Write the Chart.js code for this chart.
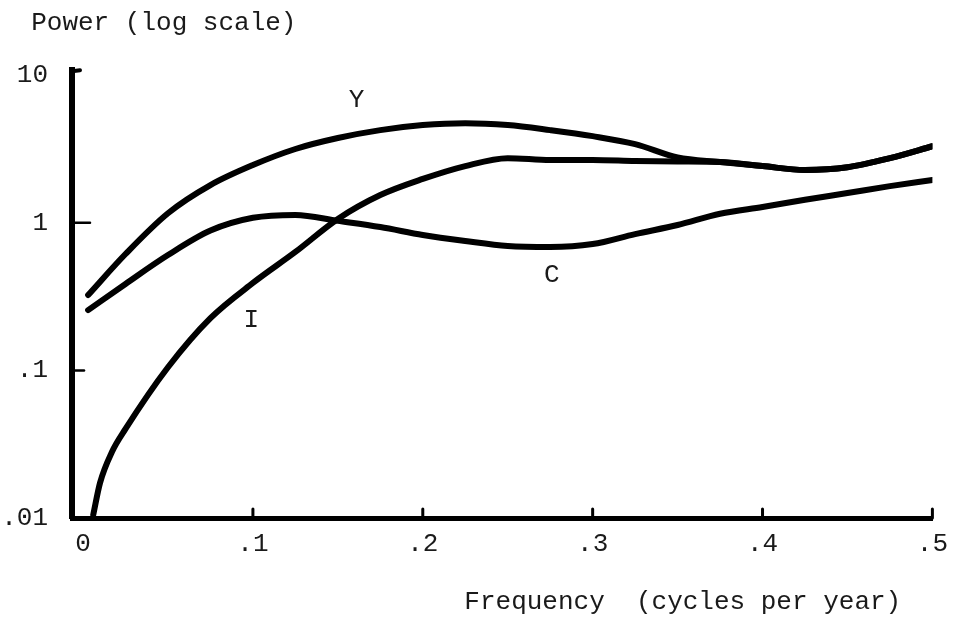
<!DOCTYPE html>
<html>
<head>
<meta charset="utf-8">
<script src="https://cdn.jsdelivr.net/npm/chart.js@4.4.1/dist/chart.umd.min.js"></script>
<style>
  html, body { margin: 0; padding: 0; background: #fff; }
  #wrap { width: 959px; height: 630px; }
</style>
</head>
<body>
<div id="wrap"><canvas id="myChart" width="959" height="630"></canvas></div>
<script>
// frequency (cycles per year) where the curves were read
const freq = [0.003, 0.025, 0.05, 0.075, 0.1, 0.125, 0.15, 0.175, 0.2, 0.225, 0.25,
              0.275, 0.3, 0.325, 0.35, 0.375, 0.4, 0.425, 0.45, 0.475, 0.5];
const yPower = [0.324, 0.614, 1.16, 1.80, 2.46, 3.16, 3.75, 4.24, 4.59, 4.73, 4.59,
                4.24, 3.86, 3.41, 2.77, 2.58, 2.42, 2.28, 2.38, 2.74, 3.30];
const cPower = [0.256, 0.385, 0.604, 0.885, 1.08, 1.13, 1.03, 0.935, 0.826, 0.752, 0.695,
                0.684, 0.717, 0.838, 0.965, 1.15, 1.28, 1.43, 1.59, 1.77, 1.95];
// I starts lower down, so it has a few extra points near zero
const iFreq = [0.006, 0.01, 0.017, 0.025, 0.05, 0.075, 0.1, 0.125, 0.15, 0.175, 0.2, 0.225, 0.25,
               0.275, 0.3, 0.325, 0.35, 0.375, 0.4, 0.425, 0.45, 0.475, 0.5];
const iPower = [0.0105, 0.0173, 0.028, 0.0401, 0.105, 0.226, 0.391, 0.634, 1.06, 1.54, 1.98, 2.42, 2.74,
                2.66, 2.66, 2.62, 2.6, 2.58, 2.42, 2.28, 2.38, 2.74, 3.30];

const xTicks = [0, 0.1, 0.2, 0.3, 0.4, 0.5];
const xTickLabels = ["0", ".1", ".2", ".3", ".4", ".5"];
const yTicks = [0.01, 0.1, 1, 10];
const yTickLabels = [".01", ".1", "1", "10"];

const seriesNames = ["Y", "C", "I"];
// where the hand lettering sits, in data units
const nameSpots = [[0.161, 6.8], [0.276, 0.44], [0.099, 0.219]];

const typeFont = { family: "'Liberation Mono', 'DejaVu Sans Mono', monospace", size: 26 };
const ink = "#1a1a1a";

const pairs = (xs, ys) => xs.map((v, i) => ({ x: v, y: ys[i] }));

const inkMarks = {
    id: "inkMarks",
    afterDraw: (chart) => {
        const { ctx, chartArea, scales } = chart;
        const x = scales.x, y = scales.y;
        ctx.save();
        ctx.strokeStyle = "#000";
        ctx.lineCap = "round";
        // little hook at the top of the power axis
        ctx.lineWidth = 4;
        ctx.beginPath();
        ctx.moveTo(chartArea.left, chartArea.top + 1);
        ctx.lineTo(chartArea.left + 8, chartArea.top);
        ctx.stroke();
        // inward ticks on the power axis
        ctx.lineWidth = 2.5;
        [1, 0.1].forEach((v, i) => {
            const py = y.getPixelForValue(v);
            ctx.beginPath();
            ctx.moveTo(chartArea.left + 2, py);
            ctx.lineTo(chartArea.left + (i === 0 ? 18 : 12), py);
            ctx.stroke();
        });
        // small upward ticks on the frequency axis
        ctx.lineWidth = 3;
        xTicks.slice(1).forEach((v) => {
            const px = x.getPixelForValue(v);
            ctx.beginPath();
            ctx.moveTo(px, chartArea.bottom);
            ctx.lineTo(px, chartArea.bottom - 9);
            ctx.stroke();
        });
        // curve names
        ctx.fillStyle = ink;
        ctx.font = typeFont.size + "px " + typeFont.family;
        ctx.textAlign = "center";
        ctx.textBaseline = "middle";
        seriesNames.forEach((name, i) => {
            ctx.fillText(name, x.getPixelForValue(nameSpots[i][0]), y.getPixelForValue(nameSpots[i][1]));
        });
        ctx.restore();
    },
};

const curve = (label, data) => ({
    label: label,
    data: data,
    borderColor: "#000",
    borderWidth: 6,
    borderCapStyle: "round",
    borderJoinStyle: "round",
    pointRadius: 0,
    fill: false,
    cubicInterpolationMode: "monotone",
});

document.addEventListener("DOMContentLoaded", () => {
    const ctx = document.getElementById("myChart").getContext("2d");
    new Chart(ctx, {
        type: "line",
        data: {
            datasets: [
                curve("Y", pairs(freq, yPower)),
                curve("C", pairs(freq, cPower)),
                curve("I", pairs(iFreq, iPower)),
            ],
        },
        options: {
            responsive: false,
            animation: false,
            devicePixelRatio: 1,
            layout: { padding: { left: 0, right: 24, top: 0, bottom: 0 } },
            plugins: {
                legend: { display: false },
                tooltip: { enabled: false },
                title: {
                    display: true,
                    text: "  Power (log scale)",
                    align: "start",
                    color: ink,
                    font: { family: typeFont.family, size: typeFont.size, weight: "normal" },
                    padding: { top: 8, bottom: 31 },
                },
            },
            scales: {
                x: {
                    type: "linear",
                    min: -0.0065,
                    max: 0.5,
                    afterBuildTicks: (s) => { s.ticks = xTicks.map((v) => ({ value: v })); },
                    afterFit: (s) => { s.height = 112; },
                    grid: { display: false, drawTicks: false },
                    border: { display: true, width: 5, color: "#000" },
                    ticks: {
                        callback: (v, i) => xTickLabels[i],
                        color: ink,
                        font: typeFont,
                        padding: 11,
                        maxRotation: 0,
                        autoSkip: false,
                    },
                    title: {
                        display: true,
                        text: "Frequency  (cycles per year)  ",
                        align: "end",
                        color: ink,
                        font: typeFont,
                        padding: { top: 0, bottom: 12 },
                    },
                },
                y: {
                    type: "logarithmic",
                    min: 0.01,
                    max: 10.8,
                    afterBuildTicks: (s) => { s.ticks = yTicks.map((v) => ({ value: v })); },
                    afterFit: (s) => { s.width = 72; },
                    grid: { display: false, drawTicks: false },
                    border: { display: true, width: 6, color: "#000" },
                    ticks: {
                        callback: (v, i) => yTickLabels[i],
                        color: ink,
                        font: typeFont,
                        padding: 24,
                        autoSkip: false,
                    },
                },
            },
        },
        plugins: [inkMarks],
    });
});
</script>
</body>
</html>
